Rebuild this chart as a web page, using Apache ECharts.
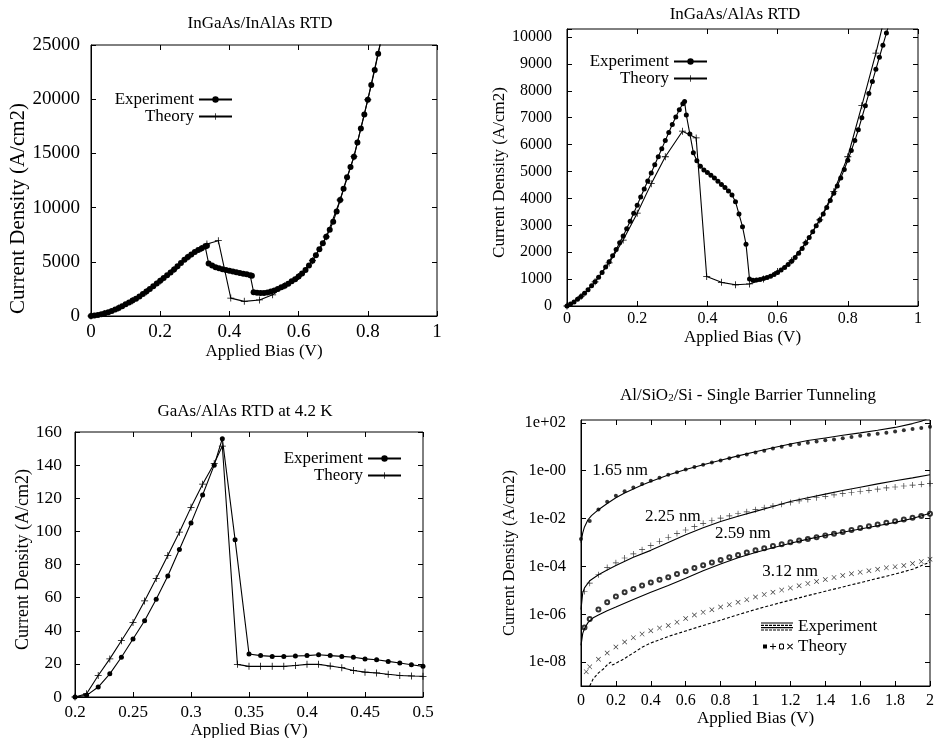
<!DOCTYPE html>
<html><head><meta charset="utf-8">
<script src="https://cdn.jsdelivr.net/npm/echarts@6/dist/echarts.min.js"></script>
<style>html,body{margin:0;padding:0;background:#fff}#c{width:936px;height:738px}</style>
</head><body><div id="c"></div>
<script>
// ---------- Panel 1: InGaAs/InAlAs RTD  [bias V, current density A/cm2]
const inalasExperiment = [[0,0],[0.01,40],[0.02,100],[0.03,170],[0.04,250],[0.05,350],[0.06,460],[0.07,590],[0.08,740],[0.09,900],[0.10,1080],[0.11,1250],[0.12,1420],[0.13,1600],[0.14,1800],[0.15,2020],[0.16,2250],[0.17,2500],[0.18,2750],[0.19,3000],[0.20,3250],[0.21,3500],[0.22,3750],[0.23,4020],[0.24,4300],[0.25,4600],[0.26,4900],[0.27,5180],[0.28,5450],[0.29,5680],[0.30,5900],[0.31,6080],[0.32,6250],[0.33,6400],[0.335,6480],[0.34,4850],[0.35,4650],[0.36,4500],[0.37,4400],[0.38,4320],[0.39,4250],[0.40,4180],[0.41,4110],[0.42,4040],[0.43,3970],[0.44,3900],[0.45,3840],[0.46,3770],[0.465,3720],[0.47,2200],[0.48,2150],[0.49,2130],[0.50,2130],[0.51,2170],[0.52,2250],[0.53,2360],[0.54,2500],[0.55,2650],[0.56,2800],[0.57,2980],[0.58,3200],[0.59,3400],[0.60,3650],[0.61,3930],[0.62,4250],[0.63,4650],[0.64,5100],[0.65,5600],[0.66,6150],[0.67,6700],[0.68,7300],[0.69,7950],[0.70,8700],[0.71,9650],[0.72,10700],[0.73,11750],[0.74,12800],[0.75,13750],[0.76,14700],[0.77,16000],[0.78,17300],[0.79,18600],[0.80,19950],[0.81,21300],[0.82,22700],[0.83,24200],[0.84,25700]];
const inalasTheory = [[0,0],[0.04,240],[0.08,730],[0.12,1400],[0.16,2230],[0.20,3230],[0.24,4280],[0.28,5430],[0.32,6230],[0.335,6650],[0.368,6950],[0.404,1650],[0.443,1350],[0.487,1480],[0.525,1950],[0.56,2800],[0.60,3650],[0.64,5100],[0.68,7300],[0.72,10700],[0.76,14700],[0.80,19950],[0.84,25700]];

// ---------- Panel 2: InGaAs/AlAs RTD
const alasExperiment = [[0,0],[0.01,70],[0.02,150],[0.03,250],[0.04,350],[0.05,470],[0.06,600],[0.07,750],[0.08,900],[0.09,1070],[0.10,1250],[0.11,1450],[0.12,1650],[0.13,1870],[0.14,2100],[0.15,2350],[0.16,2600],[0.17,2870],[0.18,3150],[0.19,3450],[0.20,3750],[0.21,4050],[0.22,4350],[0.23,4650],[0.24,4950],[0.25,5250],[0.26,5550],[0.27,5850],[0.28,6150],[0.29,6450],[0.30,6750],[0.31,7030],[0.32,7300],[0.33,7520],[0.335,7600],[0.34,7100],[0.35,6400],[0.36,5700],[0.37,5400],[0.38,5200],[0.39,5060],[0.40,4960],[0.41,4860],[0.42,4760],[0.43,4640],[0.44,4520],[0.45,4410],[0.46,4280],[0.47,4130],[0.48,3880],[0.49,3420],[0.50,2950],[0.51,2300],[0.52,1000],[0.53,960],[0.54,970],[0.55,990],[0.56,1020],[0.57,1060],[0.58,1110],[0.59,1170],[0.60,1250],[0.61,1340],[0.62,1430],[0.63,1540],[0.64,1660],[0.65,1800],[0.66,1960],[0.67,2140],[0.68,2340],[0.69,2550],[0.70,2760],[0.71,2980],[0.72,3200],[0.73,3420],[0.74,3660],[0.75,3920],[0.76,4190],[0.77,4460],[0.78,4760],[0.79,5080],[0.80,5420],[0.81,5780],[0.82,6150],[0.83,6550],[0.84,7000],[0.85,7450],[0.86,7900],[0.87,8350],[0.88,8800],[0.89,9250],[0.90,9700],[0.91,10150],[0.92,10600]];
const alasTheory = [[0,0],[0.04,350],[0.08,900],[0.12,1600],[0.16,2450],[0.20,3450],[0.24,4550],[0.28,5550],[0.329,6500],[0.368,6250],[0.398,1100],[0.44,880],[0.48,790],[0.52,820],[0.56,1000],[0.60,1280],[0.64,1680],[0.68,2350],[0.72,3200],[0.76,4250],[0.80,5550],[0.84,7450],[0.88,9400],[0.91,11000]];

// ---------- Panel 3: GaAs/AlAs RTD at 4.2 K
const gaasExperiment = [[0.20,0],[0.21,1],[0.22,6],[0.23,14],[0.24,24],[0.25,35],[0.26,46],[0.27,59],[0.28,73],[0.29,89],[0.30,105],[0.31,122],[0.32,140],[0.327,156],[0.338,95],[0.35,26],[0.36,25],[0.37,24.5],[0.38,24.5],[0.39,24.8],[0.40,25],[0.41,25.5],[0.42,25],[0.43,24.5],[0.44,24],[0.45,23],[0.46,22.5],[0.47,21.5],[0.48,20.5],[0.49,19.5],[0.50,18.5]];
const gaasTheory = [[0.20,0],[0.21,2],[0.22,13],[0.23,23],[0.24,34],[0.25,45],[0.26,58],[0.27,71.5],[0.28,85.5],[0.29,99.5],[0.30,114.5],[0.31,128.5],[0.32,141],[0.327,151.5],[0.34,19.7],[0.35,18.5],[0.36,18.5],[0.37,18.5],[0.38,18.5],[0.39,19],[0.40,19.7],[0.41,19.7],[0.42,18.7],[0.43,17.7],[0.44,16],[0.45,15],[0.46,14.5],[0.47,13.7],[0.48,13],[0.49,12.7],[0.50,12.5]];

// ---------- Panel 4: Al/SiO2/Si  [bias V, log10(current density A/cm2)]
const exp165 = [[0,-3.0],[0.01,-2.6],[0.02,-2.35],[0.04,-2.05],[0.06,-1.88],[0.08,-1.75],[0.1,-1.63],[0.15,-1.37],[0.2,-1.13],[0.25,-0.93],[0.3,-0.76],[0.35,-0.6],[0.4,-0.45],[0.5,-0.18],[0.6,0.05],[0.7,0.25],[0.8,0.44],[0.9,0.62],[1.0,0.79],[1.1,0.96],[1.2,1.12],[1.3,1.26],[1.4,1.37],[1.5,1.48],[1.6,1.58],[1.7,1.69],[1.8,1.81],[1.9,1.97],[1.95,2.07],[1.98,2.15]];
const th165 = [[0,-2.85],[0.05,-2.1],[0.1,-1.62],[0.15,-1.3],[0.2,-1.05],[0.25,-0.86],[0.3,-0.7],[0.35,-0.56],[0.4,-0.42],[0.45,-0.29],[0.5,-0.17],[0.55,-0.06],[0.6,0.05],[0.65,0.15],[0.7,0.25],[0.75,0.34],[0.8,0.43],[0.85,0.52],[0.9,0.6],[0.95,0.68],[1.0,0.76],[1.05,0.83],[1.1,0.93],[1.15,1.0],[1.2,1.07],[1.25,1.12],[1.3,1.17],[1.35,1.22],[1.4,1.27],[1.45,1.31],[1.5,1.36],[1.55,1.41],[1.6,1.46],[1.65,1.5],[1.7,1.55],[1.75,1.59],[1.8,1.64],[1.85,1.69],[1.9,1.74],[1.95,1.79],[2.0,1.84]];
const exp225 = [[0,-5.8],[0.01,-5.1],[0.02,-4.9],[0.05,-4.6],[0.1,-4.35],[0.15,-4.15],[0.2,-3.96],[0.3,-3.62],[0.4,-3.33],[0.5,-3.0],[0.6,-2.68],[0.7,-2.38],[0.8,-2.12],[0.9,-1.9],[1.0,-1.7],[1.1,-1.5],[1.2,-1.29],[1.3,-1.13],[1.4,-0.98],[1.5,-0.83],[1.6,-0.69],[1.7,-0.55],[1.8,-0.42],[1.9,-0.3],[2.0,-0.17]];
const th225 = [[0.02,-5.05],[0.05,-4.7],[0.1,-4.35],[0.15,-4.05],[0.2,-3.85],[0.25,-3.65],[0.3,-3.48],[0.35,-3.3],[0.4,-3.13],[0.45,-2.95],[0.5,-2.78],[0.55,-2.63],[0.6,-2.48],[0.65,-2.34],[0.7,-2.2],[0.75,-2.08],[0.8,-1.98],[0.85,-1.89],[0.9,-1.8],[0.95,-1.72],[1.0,-1.63],[1.05,-1.55],[1.1,-1.47],[1.15,-1.4],[1.2,-1.33],[1.25,-1.26],[1.3,-1.2],[1.35,-1.13],[1.4,-1.07],[1.45,-1.01],[1.5,-0.96],[1.55,-0.91],[1.6,-0.86],[1.65,-0.82],[1.7,-0.77],[1.75,-0.72],[1.8,-0.68],[1.85,-0.64],[1.9,-0.6],[1.95,-0.57],[2.0,-0.53]];
const exp259 = [[0,-7.3],[0.01,-6.8],[0.02,-6.6],[0.04,-6.35],[0.07,-6.15],[0.1,-6.03],[0.15,-5.85],[0.2,-5.7],[0.3,-5.38],[0.4,-5.08],[0.5,-4.8],[0.6,-4.5],[0.7,-4.18],[0.8,-3.9],[0.9,-3.64],[1.0,-3.42],[1.1,-3.22],[1.2,-3.03],[1.3,-2.86],[1.4,-2.71],[1.5,-2.57],[1.6,-2.44],[1.7,-2.3],[1.8,-2.16],[1.9,-2.0],[2.0,-1.78]];
const th259 = [[0.02,-6.55],[0.05,-6.2],[0.1,-5.8],[0.15,-5.5],[0.2,-5.26],[0.25,-5.08],[0.3,-4.95],[0.35,-4.8],[0.4,-4.67],[0.45,-4.56],[0.5,-4.45],[0.55,-4.32],[0.6,-4.2],[0.65,-4.07],[0.7,-3.95],[0.75,-3.84],[0.8,-3.73],[0.85,-3.62],[0.9,-3.52],[0.95,-3.42],[1.0,-3.33],[1.05,-3.24],[1.1,-3.15],[1.15,-3.07],[1.2,-2.99],[1.25,-2.92],[1.3,-2.85],[1.35,-2.78],[1.4,-2.71],[1.45,-2.64],[1.5,-2.56],[1.55,-2.48],[1.6,-2.4],[1.65,-2.32],[1.7,-2.25],[1.75,-2.18],[1.8,-2.11],[1.85,-2.04],[1.9,-1.97],[1.95,-1.89],[2.0,-1.8]];
const exp312 = [[0.05,-9.0],[0.07,-8.7],[0.1,-8.45],[0.13,-8.28],[0.15,-8.12],[0.17,-8.0],[0.18,-8.12],[0.2,-8.05],[0.23,-7.93],[0.25,-7.85],[0.27,-7.75],[0.28,-7.8],[0.3,-7.62],[0.35,-7.38],[0.4,-7.2],[0.5,-6.93],[0.6,-6.7],[0.7,-6.47],[0.8,-6.25],[0.9,-6.02],[1.0,-5.8],[1.1,-5.6],[1.2,-5.41],[1.3,-5.22],[1.4,-5.04],[1.5,-4.86],[1.6,-4.68],[1.7,-4.5],[1.8,-4.32],[1.9,-4.12],[2.0,-3.82]];
const th312 = [[0.03,-8.4],[0.05,-8.2],[0.1,-7.88],[0.15,-7.62],[0.2,-7.37],[0.25,-7.16],[0.3,-6.98],[0.35,-6.83],[0.4,-6.69],[0.45,-6.58],[0.5,-6.47],[0.55,-6.33],[0.6,-6.18],[0.65,-6.03],[0.7,-5.92],[0.75,-5.81],[0.8,-5.7],[0.85,-5.6],[0.9,-5.5],[0.95,-5.39],[1.0,-5.28],[1.05,-5.18],[1.1,-5.08],[1.15,-4.99],[1.2,-4.9],[1.25,-4.81],[1.3,-4.72],[1.35,-4.63],[1.4,-4.55],[1.45,-4.46],[1.5,-4.38],[1.55,-4.31],[1.6,-4.24],[1.65,-4.18],[1.7,-4.12],[1.75,-4.06],[1.8,-4.01],[1.85,-3.96],[1.9,-3.88],[1.95,-3.8],[2.0,-3.7]];
const thicknessNames = ['1.65 nm','2.25 nm','2.59 nm','3.12 nm'];
const thicknessAnchors = [[0.224,0],[0.527,-1.93],[0.928,-2.64],[1.198,-4.23]];
const logTickValues = [-8,-6,-4,-2,0,2];

const titles = ['InGaAs/InAlAs RTD','InGaAs/AlAs RTD','GaAs/AlAs RTD at 4.2 K','Al/SiO{sub|2}/Si - Single Barrier Tunneling'];

// ---------- styling / layout
const FONT = '"Liberation Serif","Times New Roman",serif';
const BLK = '#000';
const plusPath = 'path://M4,0h1v9h-1z M0,4h9v1h-9z';
const crossPath = 'path://M0,0.8L0.8,0L9,8.2L8.2,9Z M8.2,0L9,0.8L0.8,9L0,8.2Z';

const gridBoxes = [
  {left:91, top:45, width:346, height:271},
  {left:567, top:29, width:351, height:277},
  {left:75, top:432, width:348, height:265},
  {left:581, top:420, width:349, height:266}
];
const grid = gridBoxes.map(g => Object.assign({show:true, borderColor:BLK, borderWidth:1, backgroundColor:'rgba(0,0,0,0)', containLabel:false, outerBoundsMode:'none'}, g));

const tick = {show:true, inside:true, length:5, lineStyle:{color:BLK, width:1}};
function xMain(i, min, max, interval, fs, margin, nameGap) {
  return {type:'value', gridIndex:i, min, max, interval, position:'bottom',
    axisLine:{show:true, onZero:false, lineStyle:{color:BLK, width:1}},
    axisTick:tick, splitLine:{show:false},
    axisLabel:{show:true, color:BLK, fontFamily:FONT, fontSize:fs, margin, formatter:v => String(+v.toFixed(2))},
    name:'Applied Bias (V)', nameLocation:'middle', nameGap,
    nameTextStyle:{color:BLK, fontFamily:FONT, fontSize:17}};
}
function xMirror(i, min, max, interval) {
  return {type:'value', gridIndex:i, min, max, interval, position:'top',
    axisLine:{show:false, onZero:false}, axisTick:tick, axisLabel:{show:false}, splitLine:{show:false}};
}
function yMain(i, min, max, interval, fs, margin, nameGap, nameFs, pad, fmt, extra) {
  return Object.assign({type:'value', gridIndex:i, min, max, interval, position:'left',
    axisLine:{show:true, onZero:false, lineStyle:{color:BLK, width:1}},
    axisTick:tick, splitLine:{show:false},
    axisLabel:{show:true, color:BLK, fontFamily:FONT, fontSize:fs, margin, formatter:fmt},
    name:'Current Density (A/cm2)', nameLocation:'middle', nameGap,
    nameTextStyle:{color:BLK, fontFamily:FONT, fontSize:nameFs, padding:pad}}, extra || {});
}
function yMirror(i, min, max, interval, extra) {
  return Object.assign({type:'value', gridIndex:i, min, max, interval, position:'right',
    axisLine:{show:false, onZero:false}, axisTick:tick, axisLabel:{show:false}, splitLine:{show:false}}, extra || {});
}
const logFmt = v => {
  const r = Math.round(v);
  if (Math.abs(v - r) > 1e-6 || r % 2 !== 0) return '';
  if (r > 0) return '1e+' + String(r).padStart(2, '0');
  if (r === 0) return '1e-00';
  return '1e-' + String(-r).padStart(2, '0');
};
const LOGMAX = 2.12;

const xAxis = [
  xMain(0, 0, 1, 0.2, 19, 7, 23),
  xMain(1, 0, 1, 0.2, 16, 5, 23),
  xMain(2, 0.2, 0.5, 0.05, 17, 7, 19),
  xMain(3, 0, 2, 0.2, 16, 7, 20),
  xMirror(0, 0, 1, 0.2), xMirror(1, 0, 1, 0.2), xMirror(2, 0.2, 0.5, 0.05), xMirror(3, 0, 2, 0.2)
];
const yAxis = [
  yMain(0, 0, 25000, 5000, 19, 11, 60, 21, [0, 56, 0, 0], v => String(v)),
  yMain(1, 0, 10300, 1000, 16, 15, 57, 17, [0, 10, 0, 0], v => (v > 10000 ? '' : String(v))),
  yMain(2, 0, 160, 20, 17.5, 13, 39, 18, [0, 0, 0, 10], v => String(v)),
  yMain(3, -9, LOGMAX, 1, 16.5, 15, 63, 16.5, [0, 0, 0, 0], logFmt,
        {axisTick:Object.assign({customValues:logTickValues}, tick)}),
  yMirror(0, 0, 25000, 5000), yMirror(1, 0, 10300, 1000), yMirror(2, 0, 160, 20),
  yMirror(3, -9, LOGMAX, 1, {axisTick:Object.assign({customValues:logTickValues}, tick)})
];
yAxis[3].axisLabel.customValues = logTickValues;

function lineSeries(name, idx, data, symbol, size) {
  return {type:'line', name, xAxisIndex:idx, yAxisIndex:idx, data, symbol, symbolSize:size,
    showSymbol:true, showAllSymbol:true, clip:true, silent:true, animation:false,
    lineStyle:{color:BLK, width:1.1}, itemStyle:{color:BLK, borderWidth:0}, emphasis:{disabled:true}};
}
function expLine(data, dash) {
  return {type:'line', name:'Experiment', xAxisIndex:3, yAxisIndex:3, data, symbol:'none', clip:true,
    silent:true, animation:false, smooth:false,
    lineStyle:{color:BLK, width:1.1, type:dash || 'solid'}, itemStyle:{color:BLK}, emphasis:{disabled:true}};
}
function thScatter(data, symbol, size, extra) {
  return Object.assign({type:'scatter', name:'Theory', xAxisIndex:3, yAxisIndex:3, data, symbol, symbolSize:size,
    clip:true, silent:true, animation:false, itemStyle:{color:BLK}, emphasis:{disabled:true}}, extra || {});
}

const series = [
  lineSeries('Experiment', 0, inalasExperiment, 'circle', 6),
  lineSeries('Theory', 0, inalasTheory, plusPath, 7),
  lineSeries('Experiment', 1, alasExperiment, 'circle', 5),
  lineSeries('Theory', 1, alasTheory, plusPath, 7),
  lineSeries('Experiment', 2, gaasExperiment, 'circle', 5),
  lineSeries('Theory', 2, gaasTheory, plusPath, 7),
  Object.assign(expLine(exp165), {markPoint:{symbol:'rect', symbolSize:1, silent:true, animation:false,
    itemStyle:{color:'rgba(0,0,0,0)'},
    label:{show:true, position:'inside', color:BLK, fontFamily:FONT, fontSize:17, formatter:p => p.name},
    data:thicknessNames.map((n, k) => ({name:n, coord:thicknessAnchors[k]}))}}),
  expLine(exp225),
  expLine(exp259),
  expLine(exp312, [3, 2]),
  thScatter(th165, 'circle', 4),
  thScatter(th225, plusPath, 6),
  thScatter(th259, 'emptyCircle', 4, {itemStyle:{color:BLK, borderColor:BLK, borderWidth:0.8}}),
  thScatter(th312, crossPath, 5)
];

const title = [
  {left:260, top:15}, {left:735, top:6}, {left:245, top:403}, {left:748, top:387}
].map((p, k) => ({text:titles[k], left:p.left, top:p.top, textAlign:'center', padding:0,
  textStyle:{color:BLK, fontFamily:FONT, fontSize:17, fontWeight:'normal',
    rich:{sub:{fontSize:11, fontFamily:FONT, color:BLK, verticalAlign:'bottom', lineHeight:17}}}}));

const legendText = {color:BLK, fontFamily:FONT, fontSize:17};
function rightLegend(name, right, top) {
  return {data:[name], right, top, align:'right', orient:'vertical', padding:0, itemWidth:33, itemHeight:8,
    selectedMode:false, textStyle:legendText};
}
// icons for panel 4 legend (stacked line styles / marker row)
let expIcon = 'path://';
[0, 2.3, 4.6, 6.9].forEach((y, r) => {
  if (r % 2 === 0) expIcon += 'M0,' + y + 'h32v1.1h-32z ';
  else for (let x = 0; x < 32; x += 4) expIcon += 'M' + x + ',' + y + 'h3v1.1h-3z ';
});
const thIcon = 'path://M0,2h4v4h-4z M9.5,1h1v6h-1z M7,3.5h6v1h-6z ' +
  'M16,2L17,1L20,1L21,2L21,6L20,7L17,7L16,6Z M17,2.8L17,5.2L17.8,6L19.2,6L20,5.2L20,2.8L19.2,2L17.8,2Z ' +
  'M24,1.7L24.7,1L30,6.3L29.3,7Z M29.3,1L30,1.7L24.7,7L24,6.3Z';
const legend = [
  rightLegend('Experiment', 703, 91), rightLegend('Theory', 703, 108),
  rightLegend('Experiment', 228, 53), rightLegend('Theory', 228, 70),
  rightLegend('Experiment', 534, 450), rightLegend('Theory', 534, 467),
  {data:[{name:'Experiment', icon:expIcon, itemStyle:{color:BLK, borderWidth:0}}], left:761, top:618,
    padding:0, itemWidth:32, itemHeight:8, selectedMode:false, textStyle:legendText},
  {data:[{name:'Theory', icon:thIcon, itemStyle:{color:BLK, borderWidth:0}}], left:763, top:638,
    padding:0, itemWidth:30, itemHeight:6, selectedMode:false, textStyle:legendText}
];

const chart = echarts.init(document.getElementById('c'), null, {renderer:'canvas', width:936, height:738});
chart.setOption({
  backgroundColor:'#fff', animation:false,
  textStyle:{fontFamily:FONT, color:BLK},
  title, legend, grid, xAxis, yAxis, series
});
</script></body></html>
